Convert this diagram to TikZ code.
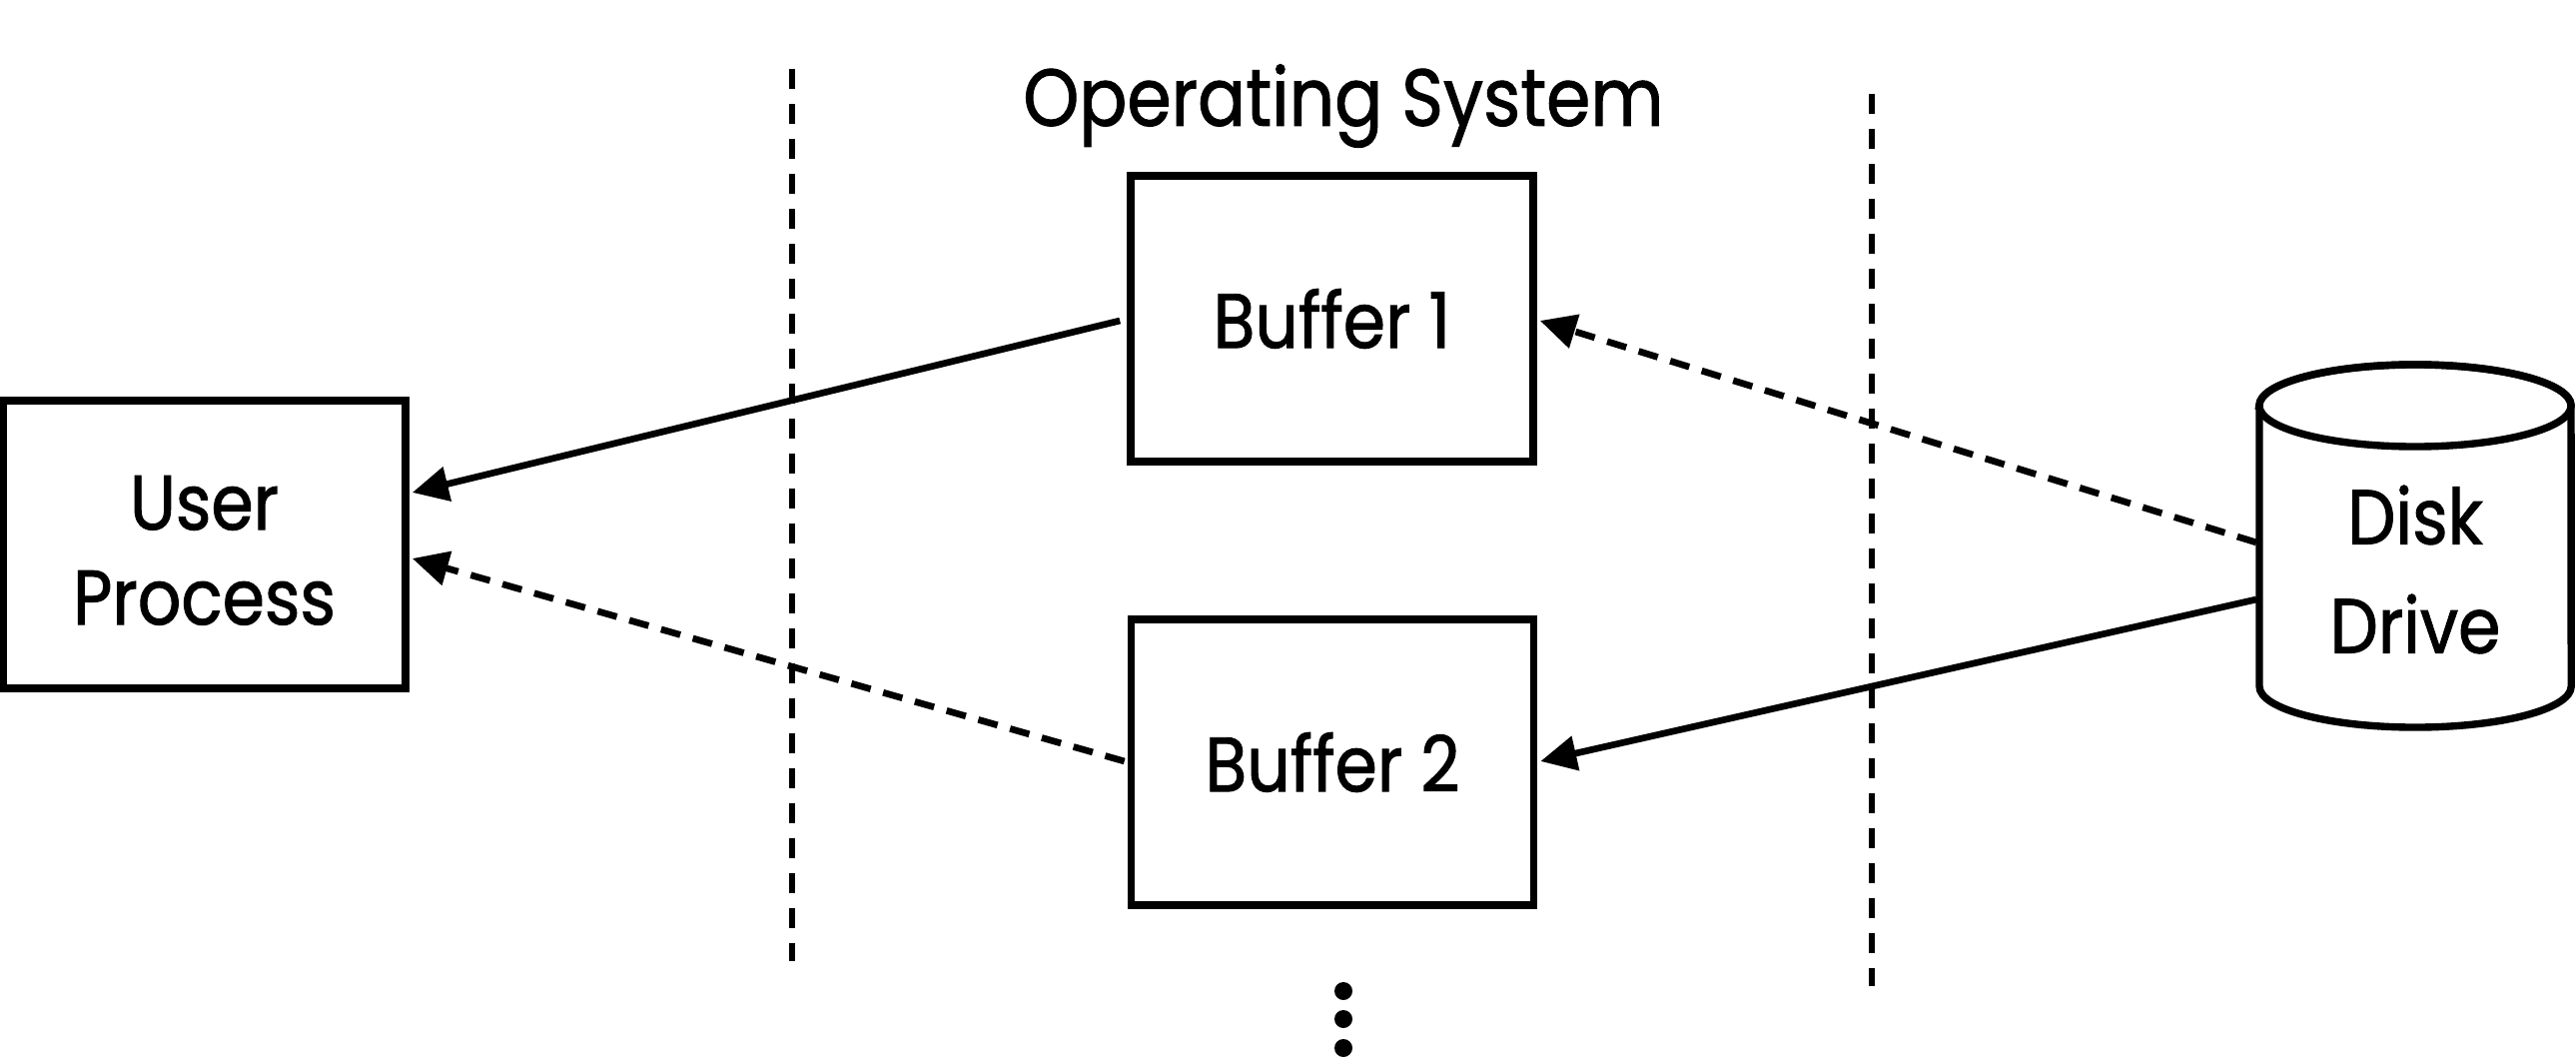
\documentclass[tikz,border=0pt]{standalone}
\usepackage{fontspec}
\setmainfont{Poppins}[FakeStretch=0.88,FakeBold=1.2]
\usetikzlibrary{arrows.meta,calc}
\begin{document}
\begin{tikzpicture}[x=0.01cm,y=-0.01cm,
  box/.style={draw,line width=2.1pt,rectangle,inner sep=0pt,align=center},
  lbl/.style={font=\fontsize{22}{27}\selectfont},
  conn/.style={line width=1.9pt,-{Triangle[length=0.36cm,width=0.34cm]}},
  dconn/.style={conn,dash pattern=on 0.2cm off 0.13cm},
  sep/.style={line width=1.7pt,dash pattern=on 0.2cm off 0.15cm}]
\useasboundingbox (0,0) rectangle (2579,1061);
\node[box,minimum width=4.03cm,minimum height=2.88cm] (up) at (204.5,545) {};
\node[lbl,align=center] (uptext) at (204.5,551) {User\\Process};
\node[box,lbl,minimum width=4.03cm,minimum height=2.86cm] (b1) at (1333.5,319) {Buffer 1};
\node[box,lbl,minimum width=4.03cm,minimum height=2.86cm] (b2) at (1334,763) {Buffer 2};
\coordinate (disk) at (2418,546);
\draw[line width=2.1pt,fill=white] (2262,406) -- (2262,687) arc(180:360:1.56cm and 0.41cm) -- (2574,406) arc(0:180:1.56cm and 0.41cm) -- cycle;
\draw[line width=2.1pt] (2418,406) ellipse (1.56cm and 0.41cm);
\node[font=\fontsize{22}{31}\selectfont,align=center] (disktext) at (2418,570) {Disk\\Drive};
\coordinate (diskw) at (2262,546);
\node[font=\fontsize{23}{28}\selectfont] (os) at (1345,106) {Operating System};
\coordinate (s1t) at (793,69); \coordinate (s1b) at (793,962);
\coordinate (s2t) at (1874,94); \coordinate (s2b) at (1874,987);
\draw[sep] (s1t) -- (s1b);
\draw[sep] (s2t) -- (s2b);
\draw[conn] ($(b1.west)+(-7,2)$) -- ($(up.east)+(3,-52)$);
\draw[dconn] ($(b2.west)+(-3,-1)$) -- ($(up.east)+(3,14)$);
\draw[dconn] ($(diskw)+(-3,-3)$) -- ($(b1.east)+(3,2)$);
\draw[conn] ($(diskw)+(-3,54)$) -- ($(b2.east)+(3,-1)$);
\node[circle,fill,inner sep=0pt,minimum size=0.18cm] (d1) at (1345,992) {};
\node[circle,fill,inner sep=0pt,minimum size=0.18cm] (d2) at (1345,1020) {};
\node[circle,fill,inner sep=0pt,minimum size=0.18cm] (d3) at (1345,1049) {};
\end{tikzpicture}
\end{document}
